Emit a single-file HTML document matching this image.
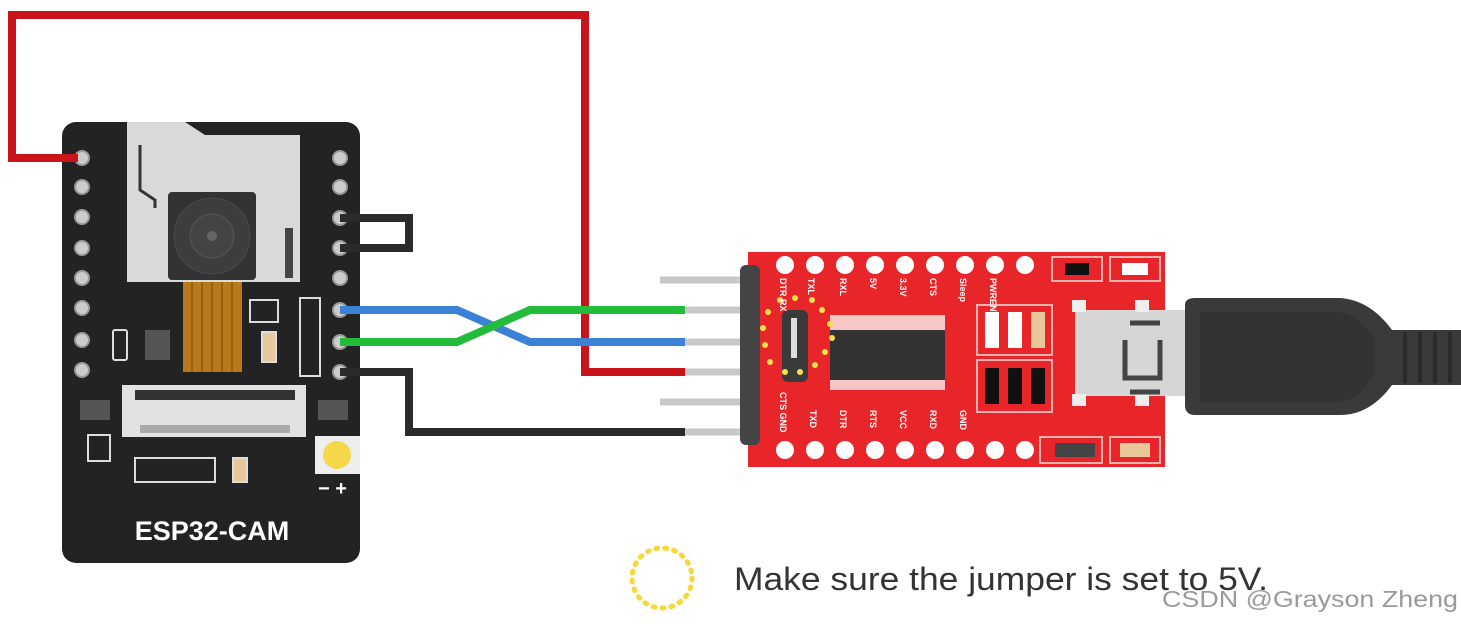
<!DOCTYPE html>
<html><head><meta charset="utf-8"><style>
html,body{margin:0;padding:0;background:#fff;}
svg{display:block;font-family:"Liberation Sans",sans-serif;}
</style></head><body>
<svg width="1461" height="624" viewBox="0 0 1461 624" xmlns="http://www.w3.org/2000/svg">
<rect width="1461" height="624" fill="#fff"/>
<!-- ESP32 board -->
<rect x="62" y="122" width="298" height="441" rx="14" fill="#232323"/>
<path d="M127 122 H185 L205 135 H300 V282 H127 Z" fill="#d9d9d9"/>
<path d="M140 145 V190 L155 200 V208" stroke="#333" stroke-width="3" fill="none"/>
<rect x="168" y="192" width="88" height="88" rx="4" fill="#333"/>
<circle cx="212" cy="236" r="38" fill="#3d3d3d" stroke="#4a4a4a"/>
<circle cx="212" cy="236" r="22" fill="#444" stroke="#555"/>
<circle cx="212" cy="236" r="5" fill="#666"/>
<rect x="285" y="228" width="8" height="50" fill="#444"/>
<rect x="183" y="282" width="59" height="90" fill="#b8791a"/>
<g stroke="#8a5a10" stroke-width="1.5"><line x1="192" y1="282" x2="192" y2="372"/><line x1="202" y1="282" x2="202" y2="372"/><line x1="212" y1="282" x2="212" y2="372"/><line x1="222" y1="282" x2="222" y2="372"/><line x1="232" y1="282" x2="232" y2="372"/></g>
<rect x="122" y="385" width="184" height="52" fill="#e2e2e2"/>
<rect x="135" y="390" width="160" height="10" fill="#333"/>
<rect x="140" y="425" width="150" height="8" fill="#aaa"/>
<g fill="#fff"><rect x="300" y="298" width="20" height="78" fill="none" stroke="#ddd" stroke-width="2"/>
<rect x="113" y="330" width="14" height="30" rx="2" fill="none" stroke="#ddd" stroke-width="2"/>
<rect x="145" y="330" width="25" height="30" fill="#555"/>
<rect x="250" y="300" width="28" height="22" fill="none" stroke="#ddd" stroke-width="2"/>
<rect x="262" y="332" width="14" height="30" fill="#e8c79a" stroke="#ddd" stroke-width="2"/>
<rect x="80" y="400" width="30" height="20" fill="#555"/>
<rect x="318" y="400" width="30" height="20" fill="#555"/>
<rect x="88" y="435" width="22" height="26" fill="none" stroke="#ddd" stroke-width="2"/>
<rect x="135" y="458" width="80" height="24" fill="none" stroke="#ddd" stroke-width="2"/>
<rect x="233" y="458" width="14" height="24" fill="#e8c79a" stroke="#ddd" stroke-width="2"/>
<rect x="315" y="436" width="45" height="38" fill="#eee"/></g>
<circle cx="337" cy="455" r="14" fill="#f4d84a"/>
<text x="318" y="495" fill="#fff" font-size="20" font-weight="bold">− +</text>
<text x="212" y="540" fill="#fff" font-size="27" font-weight="bold" text-anchor="middle">ESP32-CAM</text>
<g fill="#ccc" stroke="#999" stroke-width="2">
<circle cx="82" cy="158" r="7"/><circle cx="82" cy="187" r="7"/><circle cx="82" cy="217" r="7"/><circle cx="82" cy="248" r="7"/><circle cx="82" cy="278" r="7"/><circle cx="82" cy="308" r="7"/><circle cx="82" cy="340" r="7"/><circle cx="82" cy="370" r="7"/>
<circle cx="340" cy="158" r="7"/><circle cx="340" cy="187" r="7"/><circle cx="340" cy="218" r="7"/><circle cx="340" cy="248" r="7"/><circle cx="340" cy="278" r="7"/><circle cx="340" cy="310" r="7"/><circle cx="340" cy="342" r="7"/><circle cx="340" cy="372" r="7"/></g>
<!-- wires -->
<g fill="none" stroke-width="8" stroke-linejoin="miter">
<path d="M78 158 H12 V15 H585 V372 H685" stroke="#c8141a"/>
<path d="M340 218 H409 V248 H340" stroke="#2b2b2b"/>
<path d="M340 372 H409 V432 H685" stroke="#2b2b2b"/>
<path d="M340 310 H457 L530 342 H685" stroke="#3b82d6"/>
<path d="M340 342 H457 L530 310 H685" stroke="#22bb3a"/>
</g>
<!-- pins -->
<g stroke="#c8c8c8" stroke-width="7"><line x1="660" y1="280" x2="750" y2="280"/><line x1="685" y1="310" x2="750" y2="310"/><line x1="685" y1="342" x2="750" y2="342"/><line x1="685" y1="372" x2="750" y2="372"/><line x1="660" y1="402" x2="750" y2="402"/><line x1="685" y1="432" x2="750" y2="432"/></g>
<!-- FTDI board -->
<rect x="748" y="252" width="417" height="215" fill="#e8262a"/>
<rect x="740" y="265" width="20" height="180" rx="6" fill="#444"/>
<g fill="#fff"><circle cx="785" cy="265" r="9"/><circle cx="815" cy="265" r="9"/><circle cx="845" cy="265" r="9"/><circle cx="875" cy="265" r="9"/><circle cx="905" cy="265" r="9"/><circle cx="935" cy="265" r="9"/><circle cx="965" cy="265" r="9"/><circle cx="995" cy="265" r="9"/><circle cx="1025" cy="265" r="9"/>
<circle cx="785" cy="450" r="9"/><circle cx="815" cy="450" r="9"/><circle cx="845" cy="450" r="9"/><circle cx="875" cy="450" r="9"/><circle cx="905" cy="450" r="9"/><circle cx="935" cy="450" r="9"/><circle cx="965" cy="450" r="9"/><circle cx="995" cy="450" r="9"/><circle cx="1025" cy="450" r="9"/></g>
<g fill="none" stroke="#f5b0b0" stroke-width="2"><rect x="1052" y="257" width="50" height="24"/><rect x="1110" y="257" width="50" height="24"/><rect x="977" y="305" width="75" height="50"/><rect x="977" y="360" width="75" height="52"/><rect x="1040" y="437" width="62" height="26"/><rect x="1110" y="437" width="50" height="26"/></g>
<rect x="1065" y="263" width="24" height="12" fill="#111"/><rect x="1122" y="263" width="26" height="12" fill="#fff"/>
<rect x="985" y="312" width="14" height="36" fill="#fff"/><rect x="1008" y="312" width="14" height="36" fill="#fff"/><rect x="1031" y="312" width="14" height="36" fill="#e8c79a"/>
<rect x="985" y="368" width="14" height="36" fill="#111"/><rect x="1008" y="368" width="14" height="36" fill="#111"/><rect x="1031" y="368" width="14" height="36" fill="#111"/>
<rect x="1055" y="443" width="40" height="14" fill="#444"/><rect x="1120" y="443" width="30" height="14" fill="#e8c79a"/>
<rect x="830" y="315" width="115" height="75" fill="#f7c7c7"/>
<rect x="830" y="330" width="115" height="50" fill="#333"/>
<rect x="782" y="310" width="26" height="72" rx="6" fill="#3a3a3a"/>
<rect x="791" y="318" width="6" height="40" fill="#ddd"/>
<g fill="#f5e04a"><circle cx="780" cy="300" r="3"/><circle cx="795" cy="298" r="3"/><circle cx="812" cy="300" r="3"/><circle cx="822" cy="310" r="3"/><circle cx="830" cy="324" r="3"/><circle cx="832" cy="338" r="3"/><circle cx="825" cy="352" r="3"/><circle cx="815" cy="365" r="3"/><circle cx="800" cy="372" r="3"/><circle cx="785" cy="372" r="3"/><circle cx="770" cy="362" r="3"/><circle cx="765" cy="345" r="3"/><circle cx="763" cy="328" r="3"/><circle cx="768" cy="312" r="3"/></g>
<g fill="#fff" font-size="9" font-weight="bold">
<text transform="translate(780,278) rotate(90)">DTR RX</text><text transform="translate(808,278) rotate(90)">TXL</text><text transform="translate(840,278) rotate(90)">RXL</text><text transform="translate(870,278) rotate(90)">5V</text><text transform="translate(900,278) rotate(90)">3.3V</text><text transform="translate(930,278) rotate(90)">CTS</text><text transform="translate(960,278) rotate(90)">Sleep</text><text transform="translate(990,278) rotate(90)">PWRENTEN</text>
<text transform="translate(780,392) rotate(90)">CTS GND</text><text transform="translate(810,410) rotate(90)">TXD</text><text transform="translate(840,410) rotate(90)">DTR</text><text transform="translate(870,410) rotate(90)">RTS</text><text transform="translate(900,410) rotate(90)">VCC</text><text transform="translate(930,410) rotate(90)">RXD</text><text transform="translate(960,410) rotate(90)">GND</text>
</g>
<!-- usb -->
<rect x="1075" y="310" width="110" height="86" fill="#d6d6d6"/>
<rect x="1072" y="300" width="14" height="12" fill="#eee"/><rect x="1135" y="300" width="14" height="12" fill="#eee"/><rect x="1072" y="394" width="14" height="12" fill="#eee"/><rect x="1135" y="394" width="14" height="12" fill="#eee"/>
<path d="M1130 323 H1160 M1125 340 V378 H1160 V340 M1130 392 H1160" stroke="#444" stroke-width="5" fill="none"/>
<path d="M1185 305 Q1185 298 1195 298 H1340 Q1370 300 1392 330 H1461 V385 H1392 Q1370 415 1340 415 H1195 Q1185 415 1185 405 Z" fill="#3a3a3a"/>
<path d="M1200 312 H1340 Q1360 315 1375 340 V372 Q1360 400 1340 402 H1200 Z" fill="#333"/>
<g stroke="#2a2a2a" stroke-width="4"><line x1="1405" y1="332" x2="1405" y2="383"/><line x1="1420" y1="332" x2="1420" y2="383"/><line x1="1435" y1="332" x2="1435" y2="383"/><line x1="1450" y1="332" x2="1450" y2="383"/></g>
<!-- note -->
<circle cx="662" cy="578" r="30" fill="none" stroke="#f5d83a" stroke-width="5" stroke-dasharray="2 7" stroke-linecap="round"/>
<text x="734" y="590" fill="#333" font-size="32" textLength="534" lengthAdjust="spacingAndGlyphs">Make sure the jumper is set to 5V.</text>
<text x="1162" y="607" fill="#9a9a9a" font-size="23" textLength="296" lengthAdjust="spacingAndGlyphs">CSDN @Grayson Zheng</text>
</svg>
</body></html>
